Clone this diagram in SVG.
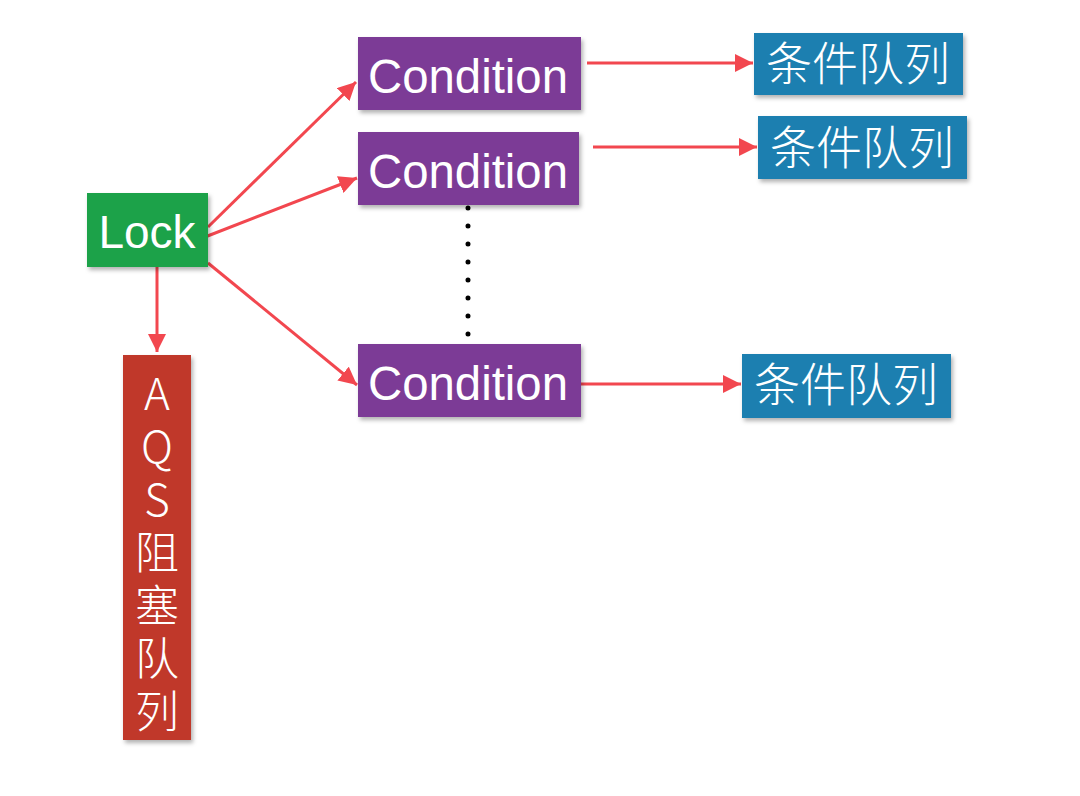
<svg xmlns="http://www.w3.org/2000/svg" width="1080" height="796" viewBox="0 0 1080 796">
<defs>
<marker id="ah" markerUnits="userSpaceOnUse" markerWidth="20" markerHeight="18" refX="18" refY="9" orient="auto">
<path d="M0,0 L18,9 L0,18 Z" fill="#f2474f"/>
</marker>
<filter id="sh" x="-10%" y="-10%" width="130%" height="130%">
<feDropShadow dx="2" dy="3" stdDeviation="2" flood-color="#000" flood-opacity="0.3"/>
</filter>
<style>
.box{filter:url(#sh)}
.lock{fill:#1fa24a}
.cond{fill:#7b3a96}
.q{fill:#1e7fb0}
.aqs{fill:#c0392b}
.t{fill:#fff;font-family:"Liberation Sans","Noto Sans CJK SC",sans-serif}
.cj{fill:#fff;font-family:"Noto Sans CJK SC",sans-serif;font-weight:300}
.v{writing-mode:vertical-rl;text-orientation:upright}
.c{stroke:#f2474f;stroke-width:3;fill:none}
</style>
</defs>
<rect width="1080" height="796" fill="#fff"/>
<g id="connectors">
<line class="c" x1="208" y1="227" x2="356" y2="82" marker-end="url(#ah)"/>
<line class="c" x1="205" y1="237" x2="357" y2="178" marker-end="url(#ah)"/>
<line class="c" x1="208" y1="263" x2="357" y2="385" marker-end="url(#ah)"/>
<line class="c" x1="157" y1="267" x2="157" y2="352" marker-end="url(#ah)"/>
<line class="c" x1="587" y1="63" x2="753" y2="63" marker-end="url(#ah)"/>
<line class="c" x1="593" y1="147" x2="757" y2="147" marker-end="url(#ah)"/>
<line class="c" x1="580" y1="384" x2="741" y2="384" marker-end="url(#ah)"/>
<line x1="468" y1="208" x2="468" y2="352" stroke="#000" stroke-width="5" stroke-linecap="round" stroke-dasharray="0 18"/>
</g>
<g id="lock">
<rect class="box lock" x="87" y="193" width="121" height="74"/>
<text class="t" x="147" y="248" font-size="46" text-anchor="middle">Lock</text>
</g>
<g id="aqs">
<rect class="box aqs" x="123" y="355" width="68" height="385"/>
<text class="cj v" x="157" y="371" font-size="44" letter-spacing="9">AQS阻塞队列</text>
</g>
<g id="cond1">
<rect class="box cond" x="358" y="37" width="223" height="73"/>
<text class="t" x="368" y="93" font-size="48" textLength="200" lengthAdjust="spacingAndGlyphs">Condition</text>
</g>
<g id="cond2">
<rect class="box cond" x="358" y="132" width="221" height="73"/>
<text class="t" x="368" y="188" font-size="48" textLength="200" lengthAdjust="spacingAndGlyphs">Condition</text>
</g>
<g id="cond3">
<rect class="box cond" x="358" y="344" width="223" height="73"/>
<text class="t" x="368" y="400" font-size="48" textLength="200" lengthAdjust="spacingAndGlyphs">Condition</text>
</g>
<g id="queue1">
<rect class="box q" x="754" y="33" width="209" height="62"/>
<text class="cj" x="858" y="80" font-size="46" text-anchor="middle">条件队列</text>
</g>
<g id="queue2">
<rect class="box q" x="758" y="116" width="209" height="63"/>
<text class="cj" x="862" y="164" font-size="46" text-anchor="middle">条件队列</text>
</g>
<g id="queue3">
<rect class="box q" x="742" y="354" width="209" height="64"/>
<text class="cj" x="846" y="401" font-size="46" text-anchor="middle">条件队列</text>
</g>
</svg>
